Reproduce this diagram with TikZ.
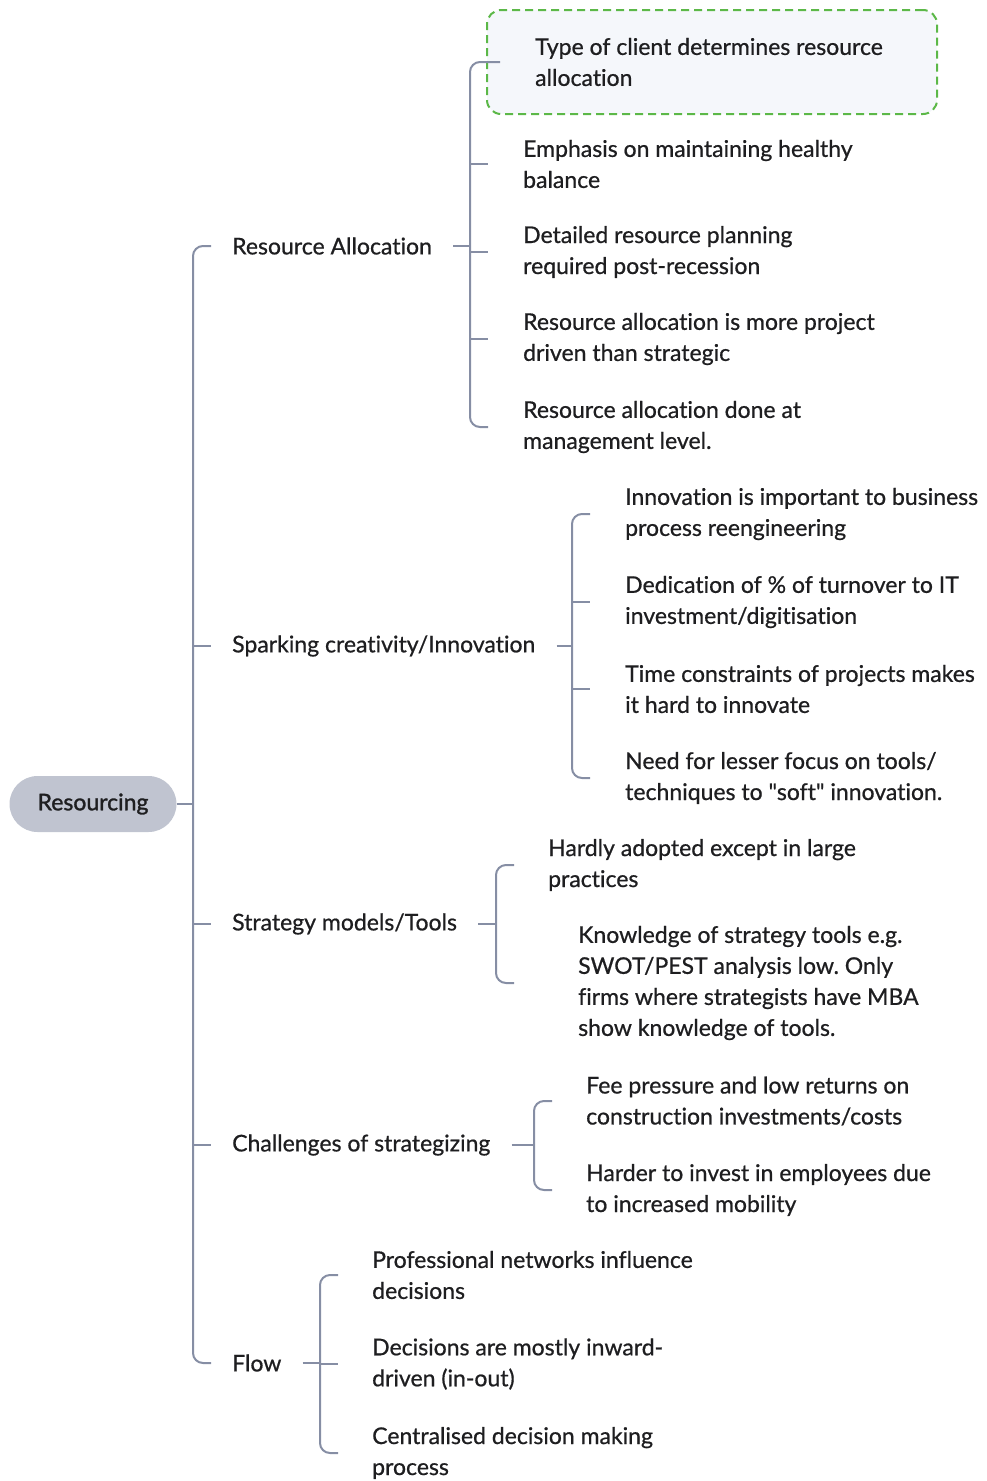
\documentclass[tikz,border=0pt]{standalone}
\usepackage{fontspec}
\setmainfont{Lato}[Ligatures={TeXOff,NoCommon}, FakeBold=0.7]
\newfontfamily\rootface{Lato}[Ligatures={TeXOff,NoCommon}, FakeBold=1.3]
\frenchspacing
\definecolor{ink}{RGB}{30,30,32}
\definecolor{linkc}{RGB}{134,142,164}
\definecolor{rootfill}{RGB}{192,196,208}
\definecolor{hlgreen}{RGB}{92,184,72}
\definecolor{hlfill}{RGB}{245,247,251}
\newcommand{\mapfont}{\fontsize{23}{31}\selectfont}
\tikzset{
  link/.style={draw=linkc, line width=2pt},
  rootbox/.style={fill=rootfill, rounded corners=28pt, minimum width=167pt,
    minimum height=56pt, inner sep=0pt, font=\rootface\mapfont, text=ink},
  topic/.style={anchor=west, inner sep=0pt, font=\mapfont, text=ink, align=left},
  leaf/.style={anchor=west, inner sep=0pt, font=\mapfont, text=ink, align=left},
  hlbox/.style={draw=hlgreen, line width=2pt, dash pattern=on 8pt off 5pt,
    fill=hlfill, rounded corners=14pt, minimum width=450pt, minimum height=104pt,
    anchor=west, inner sep=0pt},
}
\begin{document}
\begin{tikzpicture}[x=1pt,y=-1pt]
\useasboundingbox (0,0) rectangle (986,1481);

% highlighted leaf frame
\node[hlbox] (hl) at (486,62) {};

% root
\node[rootbox] (root) at (93,804) {Resourcing};
\coordinate (trunk) at (193,804);
\coordinate (trunkend) at (211,804);

% first level
\node[topic] (ra) at (232,246) {Resource Allocation};
\node[topic] (sc) at (232,646) {Sparking creativity/Innovation};
\node[topic] (sm) at (232,924) {Strategy models/Tools};
\node[topic] (cs) at (232,1145) {Challenges of strategizing};
\node[topic] (fl) at (232,1363) {Flow};

% leaves: Resource Allocation
\node[leaf] (ra1) at (535,62) {Type of client determines resource\\allocation};
\node[leaf] (ra2) at (523,164) {Emphasis on maintaining healthy\\balance};
\node[leaf] (ra3) at (523,252) {Detailed resource planning\\required post-recession};
\node[leaf] (ra4) at (523,339) {Resource allocation is more project\\driven than strategic};
\node[leaf] (ra5) at (523,427) {Resource allocation done at\\management level.};

% leaves: Sparking creativity
\node[leaf] (sc1) at (625,514) {Innovation is important to business\\process reengineering};
\node[leaf] (sc2) at (625,602) {Dedication of \% of turnover to IT\\investment/digitisation};
\node[leaf] (sc3) at (625,689) {Time constraints of projects makes\\it hard to innovate};
\node[leaf] (sc4) at (625,778) {Need for lesser focus on tools/\\techniques to "soft" innovation.};

% leaves: Strategy models
\node[leaf] (sm1) at (548,865) {Hardly adopted except in large\\practices};
\node[leaf] (sm2) at (578,983) {Knowledge of strategy tools e.g.\\SWOT/PEST analysis low. Only\\firms where strategists have MBA\\show knowledge of tools.};

% leaves: Challenges
\node[leaf] (cs1) at (586,1101) {Fee pressure and low returns on\\construction investments/costs};
\node[leaf] (cs2) at (586,1190) {Harder to invest in employees due\\to increased mobility};

% leaves: Flow
\node[leaf] (fl1) at (372,1275) {Professional networks influence\\decisions};
\node[leaf] (fl2) at (372,1364) {Decisions are mostly inward-\\driven (in-out)};
\node[leaf] (fl3) at (372,1453) {Centralised decision making\\process};

% trunk
\draw[link] (root.east) -- (trunk);
\draw[link, rounded corners=10pt] (ra.west -| trunkend) -| (trunk) |- (fl.west -| trunkend);
\foreach \t in {sc,sm,cs}
  \draw[link] (\t.west -| trunk) -- (\t.west -| trunkend);

% bracket: Resource Allocation
\coordinate (rab) at (470,246);
\coordinate (rae) at (488,246);
\draw[link] ([xshift=21pt]ra.east) -- (rab);
\draw[link, rounded corners=10pt] ([xshift=-35pt]ra1.west) -| (rab) |- (ra5.west -| rae);
\foreach \t in {ra2,ra3,ra4}
  \draw[link] (\t.west -| rab) -- (\t.west -| rae);

% bracket: Sparking creativity
\coordinate (scb) at (572,646);
\coordinate (sce) at (590,646);
\draw[link] ([xshift=21pt]sc.east) -- (scb);
\draw[link, rounded corners=10pt] (sc1.west -| sce) -| (scb) |- (sc4.west -| sce);
\foreach \t in {sc2,sc3}
  \draw[link] (\t.west -| scb) -- (\t.west -| sce);

% bracket: Strategy models
\coordinate (smb) at (496,924);
\coordinate (sme) at (514,924);
\draw[link] ([xshift=21pt]sm.east) -- (smb);
\draw[link, rounded corners=10pt] (sm1.west -| sme) -| (smb) |- (sm2.west -| sme);

% bracket: Challenges
\coordinate (csb) at (534,1145);
\coordinate (cse) at (552,1145);
\draw[link] ([xshift=21pt]cs.east) -- (csb);
\draw[link, rounded corners=10pt] (cs1.west -| cse) -| (csb) |- (cs2.west -| cse);

% bracket: Flow
\coordinate (flb) at (320,1363);
\coordinate (fle) at (338,1363);
\draw[link] ([xshift=21pt]fl.east) -- (flb);
\draw[link, rounded corners=10pt] (fl1.west -| fle) -| (flb) |- (fl3.west -| fle);
\draw[link] (fl2.west -| flb) -- (fl2.west -| fle);
\end{tikzpicture}
\end{document}
